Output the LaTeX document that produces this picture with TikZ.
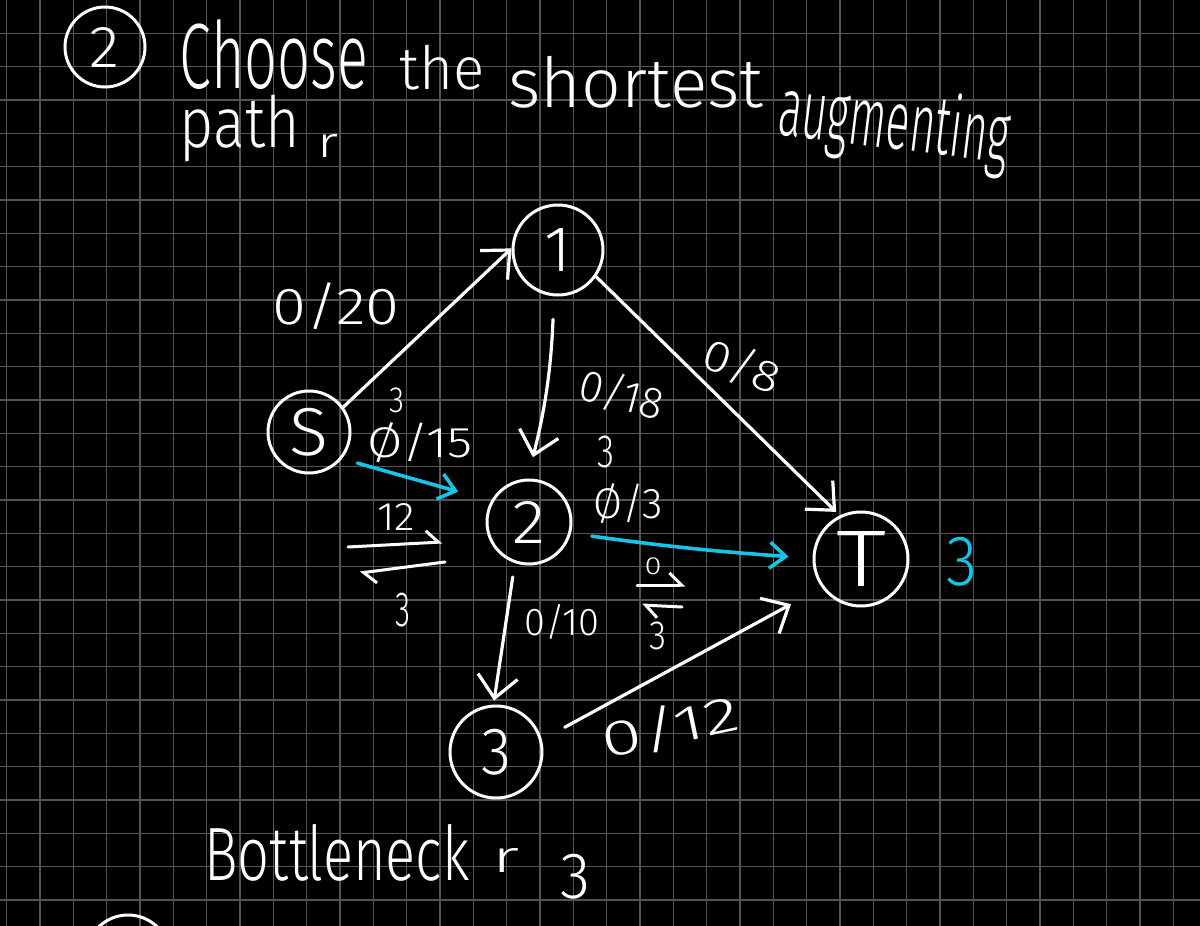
\documentclass[tikz,border=0pt]{standalone}
\usepackage{graphicx}
\usepackage{fontspec}
\setmainfont{Fira Sans}[UprightFont=* Light]
\usetikzlibrary{arrows.meta}
\definecolor{gridc}{RGB}{84,84,84}
\definecolor{hl}{RGB}{22,196,232}
\newcommand{\fitt}[3]{\resizebox*{#1pt}{#2pt}{#3}}
\tikzset{
  hand/.style={text=white, inner sep=0pt, outer sep=0pt},
  vert/.style={draw=white, line width=1.5pt, circle, inner sep=0pt, text=white},
  edgearr/.style={draw=white, line width=1.6pt, line cap=round,
    -{Straight Barb[length=11pt,width=20pt]}},
  aug/.style={draw=hl, line width=1.8pt, line cap=round,
    -{Straight Barb[length=8pt,width=13pt]}},
  res/.style={draw=white, line width=1.5pt, line cap=round,
    -{Straight Barb[left,length=6pt,width=12pt]}},
}
\begin{document}
\begin{tikzpicture}[x=0.5pt,y=-0.5pt]
\useasboundingbox (0,0) rectangle (1200,926);
\fill[black] (0,0) rectangle (1200,926);
% grid
\foreach \i in {0,...,35} {\draw[gridc, line width=0.55pt] ({6.67+33.333*\i},0) -- ({6.67+33.333*\i},926);}
\foreach \j in {1,...,27} {\draw[gridc, line width=0.55pt] (0,{33.333*\j}) -- (1200,{33.333*\j});}

\begin{scope}
\clip (0,0) rectangle (1200,926);
% title
\node[vert, minimum size=40pt] (num) at (105,47) {\fitt{15}{20}{2}};
\node[hand] (choose) at (274,55) {\fitt{94}{35}{Choose}};
\node[hand] (the) at (442,68) {\fitt{42.5}{22.5}{the}};
\node[hand] (shortest) at (636,82) {\fitt{127.5}{26}{shortest}};
\node[hand, rotate=-7] (augm) at (894,126) {\fitt{116}{40}{augmenting}};
\node[hand] (path) at (240,128) {\fitt{60}{33.5}{path}};
\node[hand] (pr) at (328,146) {\fitt{10.5}{11.5}{r}};

% vertices
\node[vert, minimum size=45pt] (1) at (558,250) {\resizebox*{!}{21.5pt}{1}};
\node[vert, minimum size=41pt] (S) at (309,432) {\fitt{19.5}{24}{S}};
\node[vert, minimum size=42pt] (2) at (529,522) {\fitt{16.5}{21}{2}};
\node[vert, minimum size=47pt] (T) at (861,559) {\fitt{25}{27.5}{T}};
\node[vert, minimum size=46pt] (3) at (496,752) {\fitt{15}{23}{3}};
\node[vert, minimum size=42pt] (num3) at (128,957) {};

% edges
\draw[edgearr] (S.36) -- (1.178);
\draw[edgearr, shorten <=11.5pt, shorten >=11pt] (1.265) to[bend left=6] (2.92);
\draw[edgearr, shorten >=2.5pt] (1.-35) -- (T.116);
\draw[edgearr, shorten <=7pt, shorten >=2pt] (2.251) -- (3.93);
\draw[edgearr, shorten <=13pt, shorten >=17.5pt] (3.15) -- (T.216);

% augmenting path
\draw[aug, shorten <=8pt, shorten >=17pt] (S.-39) -- (2.151);
\draw[aug, shorten <=10.5pt, shorten >=12pt] (2.-15) to[bend right=2] (T.179);

% edge labels
\node[hand] (l20) at (336,306) {\fitt{63.5}{23.5}{0/20}};
\node[hand, rotate=-15] (l18) at (622,394) {\fitt{42.5}{20}{0/18}};
\node[hand, rotate=-20] (l8) at (742,366) {\fitt{40}{20}{0/8}};
\node[hand] (l15t) at (397,400) {\fitt{7.5}{12.5}{3}};
\node[hand] (l15) at (420,443) {\fitt{52.5}{20}{Ø/15}};
\node[hand] (l3t) at (606,452) {\fitt{8.5}{16}{3}};
\node[hand] (l3) at (628,504) {\fitt{35}{20}{Ø/3}};
\node[hand] (l10) at (562,622) {\fitt{37.5}{17.5}{0/10}};
\node[hand, rotate=12] (l12) at (670,727) {\fitt{70}{22.5}{0/12}};

% residual arrows S-2
\coordinate (a1) at (348,547); \coordinate (a2) at (442,542);
\coordinate (b1) at (445,562); \coordinate (b2) at (360,573);
\draw[res] (a1) -- (a2);
\draw[res] (b1) -- (b2);
\node[hand] (r12) at (396,517) {\fitt{19}{13.5}{12}};
\node[hand] (r3a) at (403,610) {\fitt{7.5}{17}{3}};

% residual arrows 2-T
\coordinate (c1) at (637,585); \coordinate (c2) at (685,585);
\coordinate (d1) at (682,607); \coordinate (d2) at (642,605);
\draw[res] (c1) -- (c2);
\draw[res] (d1) -- (d2);
\node[hand] (r0) at (653,566) {\fitt{8.5}{8.5}{0}};
\node[hand] (r3b) at (658,636) {\fitt{8.5}{14}{3}};

% flow value at T
\node[hand, text=hl] (flow) at (962,562) {\fitt{15.5}{24.5}{3}};

% bottleneck
\node[hand] (bott) at (337,853) {\fitt{132.5}{28.5}{Bottleneck}};
\node[hand] (br) at (506,860) {\fitt{13.5}{12}{r}};
\node[hand] (b3) at (575,877) {\fitt{15}{22.5}{3}};
\end{scope}
\end{tikzpicture}
\end{document}
